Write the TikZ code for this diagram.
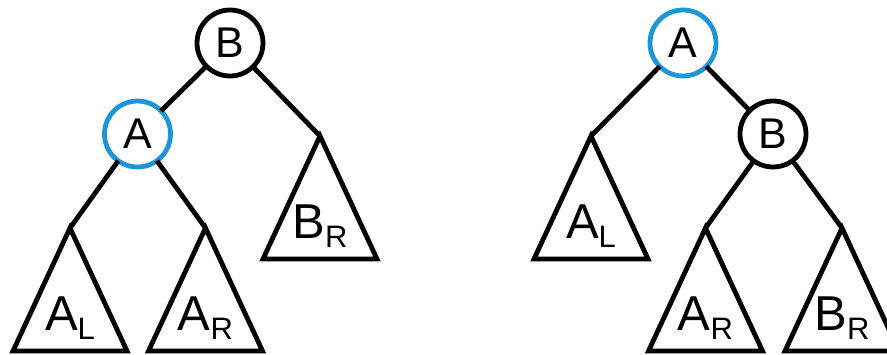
\documentclass[tikz,border=0pt]{standalone}
\usepackage{fontspec}
\setmainfont{Liberation Sans}
\definecolor{nodeblue}{RGB}{28,150,214}
\newcommand{\sublabel}[2]{#1\raisebox{-9pt}{\fontsize{31}{31}\selectfont #2}}
\begin{document}
\begin{tikzpicture}[x=1pt,y=-1pt,
  edge/.style={line width=4.8pt,black},
  circnode/.style={circle,draw=black,line width=4.8pt,minimum size=66pt,inner sep=0pt,outer sep=0pt,font=\fontsize{43}{43}\selectfont},
  bluenode/.style={circnode,draw=nodeblue},
  tri/.style={line width=4.8pt,black,line join=miter},
  trilabel/.style={anchor=base,inner sep=0pt,font=\fontsize{49}{49}\selectfont}]
\useasboundingbox (0,0) rectangle (887,354);
% ---------- left tree ----------
\node[circnode] (lB) at (230,43) {B};
\node[bluenode] (lA) at (137.5,134) {A};
\coordinate (lALt) at (70,228);
\coordinate (lARt) at (205.5,228);
\coordinate (lBRt) at (320,136);
\draw[edge] (lB) -- (lA);
\draw[edge] (lB) -- (lBRt);
\draw[edge] (lA) -- (lALt);
\draw[edge] (lA) -- (lARt);
\draw[tri] (lALt) -- ++(-57,123) -- ++(114,0) -- cycle;
\draw[tri] (lARt) -- ++(-57,123) -- ++(114,0) -- cycle;
\draw[tri] (lBRt) -- ++(-57,123) -- ++(114,0) -- cycle;
\node[trilabel] (lALl) at (70,330) {\sublabel{A}{L}};
\node[trilabel] (lARl) at (205.5,330) {\sublabel{A}{R}};
\node[trilabel] (lBRl) at (320,238) {\sublabel{B}{R}};
% ---------- right tree ----------
\node[bluenode] (rA) at (683,43) {A};
\node[circnode] (rB) at (773,134) {B};
\coordinate (rALt) at (591,136);
\coordinate (rARt) at (705.5,228);
\coordinate (rBRt) at (842,228);
\draw[edge] (rA) -- (rALt);
\draw[edge] (rA) -- (rB);
\draw[edge] (rB) -- (rARt);
\draw[edge] (rB) -- (rBRt);
\draw[tri] (rALt) -- ++(-57,123) -- ++(114,0) -- cycle;
\draw[tri] (rARt) -- ++(-57,123) -- ++(114,0) -- cycle;
\draw[tri] (rBRt) -- ++(-57,123) -- ++(114,0) -- cycle;
\node[trilabel] (rALl) at (591,238) {\sublabel{A}{L}};
\node[trilabel] (rARl) at (705.5,330) {\sublabel{A}{R}};
\node[trilabel] (rBRl) at (842,330) {\sublabel{B}{R}};
\end{tikzpicture}
\end{document}
